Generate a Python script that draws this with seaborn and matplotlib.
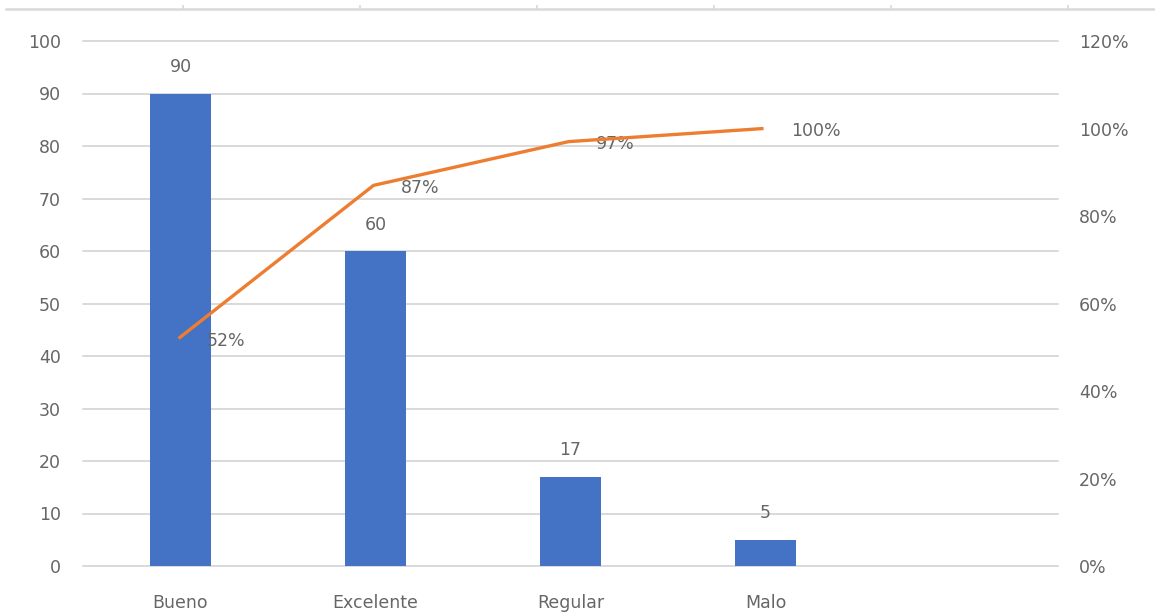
import matplotlib
matplotlib.use("Agg")
import matplotlib.pyplot as plt
import seaborn as sns
import pandas as pd
import numpy as np

# Survey ratings and their counts
categories = ["Bueno", "Excelente", "Regular", "Malo"]
counts = [90, 60, 17, 5]
cumulative_pct = [0.52, 0.87, 0.97, 1.00]
cumulative_labels = ["52%", "87%", "97%", "100%"]
left_ticks = [0, 10, 20, 30, 40, 50, 60, 70, 80, 90, 100]
right_ticks = [0, 0.2, 0.4, 0.6, 0.8, 1.0, 1.2]
right_tick_labels = ["0%", "20%", "40%", "60%", "80%", "100%", "120%"]

BAR = "#4472C4"
LINE = "#ED7D31"
GRID = "#D9D9D9"
TEXT = "#666666"
FS = 12.5

sns.set_theme(style="white")
plt.rcParams["font.family"] = ["DejaVu Sans"]

W, H = 1155, 612
fig = plt.figure(figsize=(W / 100, H / 100), dpi=100)
fig.patch.set_facecolor("white")

# Main plot area (pixel box converted to figure fractions)
x0, x1, ytop, ybot = 83, 1058, 41, 566
ax = fig.add_axes([x0 / W, (H - ybot) / H, (x1 - x0) / W, (ybot - ytop) / H])

df = pd.DataFrame({"cat": categories, "count": counts, "cum": cumulative_pct})
pos = np.arange(len(categories))

sns.barplot(x=pos, y=df["count"], ax=ax, color=BAR, width=0.31,
            native_scale=True, saturation=1, linewidth=0, zorder=3)
ax.set_xlim(-0.5, 4.5)
ax.set_ylim(0, 100)
ax.set_yticks(left_ticks)
ax.set_yticklabels([str(t) for t in left_ticks], color=TEXT, fontsize=FS)
ax.set_xticks(pos)
ax.set_xticklabels(categories, color=TEXT, fontsize=FS)
ax.tick_params(axis="both", length=0)
ax.tick_params(axis="y", pad=16)
ax.tick_params(axis="x", pad=20)
ax.grid(axis="y", color=GRID, linewidth=1.4, zorder=0)
for gl in ax.get_ygridlines():
    gl.set_clip_on(False)
ax.set_axisbelow(True)
for s in ax.spines.values():
    s.set_visible(False)
ax.set_xlabel("")
ax.set_ylabel("")

for xi, v in zip(pos, counts):
    ax.annotate(str(v), (xi, v), xytext=(0, 19), textcoords="offset points",
                ha="center", va="center", color=TEXT, fontsize=FS)

# Cumulative percentage on the secondary axis
ax2 = ax.twinx()
sns.lineplot(x=pos - 0.01, y=df["cum"], ax=ax2, color=LINE, linewidth=2.4,
             solid_joinstyle="round", solid_capstyle="butt", zorder=4)
ax2.set_ylim(0, 1.2)
ax2.set_xlim(-0.5, 4.5)
ax2.set_yticks(right_ticks)
ax2.set_yticklabels(right_tick_labels, color=TEXT, fontsize=FS)
ax2.tick_params(axis="y", length=0, pad=15)
ax2.grid(False)
for s in ax2.spines.values():
    s.set_visible(False)
ax2.set_ylabel("")
for xi, v, lab in zip(pos - 0.01, cumulative_pct, cumulative_labels):
    ax2.annotate(lab, (xi, v), xytext=(20, -2), textcoords="offset points",
                 ha="left", va="center", color=TEXT, fontsize=FS)

# Secondary category axis running along the top edge
axt = fig.add_axes([6 / W, (H - 9) / H, 177 * 6.5 / W, 0.001])
axt.set_xlim(0, 6.5)
axt.set_ylim(0, 1)
axt.set_facecolor("none")
for name, s in axt.spines.items():
    s.set_visible(name == "bottom")
axt.spines["bottom"].set_color(GRID)
axt.spines["bottom"].set_linewidth(1.8)
axt.set_xticks([1, 2, 3, 4, 5, 6])
axt.set_xticklabels([])
axt.set_yticks([])
axt.xaxis.set_ticks_position("bottom")
axt.tick_params(axis="x", direction="in", length=3, width=1.2, color=GRID,
                labelbottom=False)

fig.savefig("out.png", dpi=100, facecolor="white")
